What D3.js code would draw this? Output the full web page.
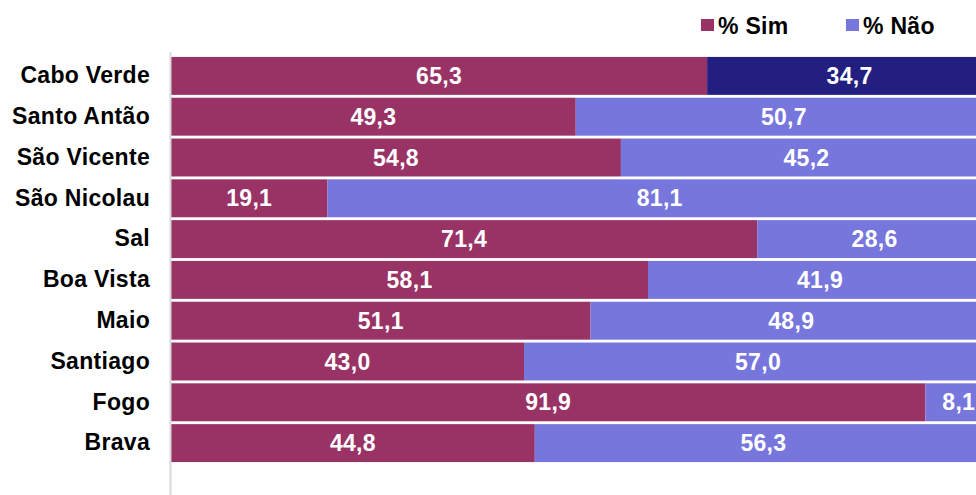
<!DOCTYPE html>
<html>
<head>
<meta charset="utf-8">
<script src="https://cdn.jsdelivr.net/npm/d3@7"></script>
<style>
  html, body { margin: 0; padding: 0; background: #fff; overflow: hidden; }
  svg { display: block; font-family: "Liberation Sans", Arial, sans-serif; }
  text { font-family: "Liberation Sans", Arial, sans-serif; }
</style>
</head>
<body>
<svg id="chart" width="976" height="495"></svg>
<script>
const categories = ["Cabo Verde", "Santo Antão", "São Vicente", "São Nicolau", "Sal", "Boa Vista", "Maio", "Santiago", "Fogo", "Brava"];
const simValues = [65.3, 49.3, 54.8, 19.1, 71.4, 58.1, 51.1, 43.0, 91.9, 44.8];
const naoValues = [34.7, 50.7, 45.2, 81.1, 28.6, 41.9, 48.9, 57.0, 8.1, 56.3];
const seriesNames = ["% Sim", "% Não"];

const colors = { sim: "#993366", nao: "#7676DC", naoTotal: "#221F80" };

const svg = d3.select("#chart");
const W = 976, H = 495;
const x0 = 171;
// 100% stacked: each row normalised to its total
const x = d3.scaleLinear().domain([0, 1]).range([x0, 992]);
const y = d3.scaleBand().domain(categories).range([55.5, 463.5]).paddingInner(0.07).paddingOuter(0.035);

const fmt = v => v.toFixed(1).replace(".", ",");
const FS = 23;
const LS = 0.3;

const rows = categories.map((c, i) => {
  const tot = simValues[i] + naoValues[i];
  return { c, i, sim: simValues[i], nao: naoValues[i], fs: simValues[i] / tot };
});

const g = svg.append("g");
rows.forEach(r => {
  g.append("rect")
    .attr("x", x(0)).attr("y", y(r.c))
    .attr("width", x(r.fs) - x(0)).attr("height", y.bandwidth())
    .attr("fill", colors.sim);
  g.append("rect")
    .attr("x", x(r.fs)).attr("y", y(r.c))
    .attr("width", x(1) - x(r.fs)).attr("height", y.bandwidth())
    .attr("fill", r.i === 0 ? colors.naoTotal : colors.nao);
  g.append("text")
    .attr("x", (x(0) + x(r.fs)) / 2).attr("y", y(r.c) + y.bandwidth() / 2)
    .attr("text-anchor", "middle").attr("dominant-baseline", "central")
    .attr("fill", "#fff").attr("font-weight", "bold").attr("font-size", FS)
    .attr("letter-spacing", LS)
    .text(fmt(r.sim));
  g.append("text")
    .attr("x", (x(r.fs) + x(1)) / 2).attr("y", y(r.c) + y.bandwidth() / 2)
    .attr("text-anchor", "middle").attr("dominant-baseline", "central")
    .attr("fill", "#fff").attr("font-weight", "bold").attr("font-size", FS)
    .attr("letter-spacing", LS)
    .text(fmt(r.nao));
});

const axis = d3.axisLeft(y).tickSize(0).tickPadding(21);
const ag = svg.append("g").attr("transform", `translate(${x0},0)`).call(axis);
ag.select(".domain").remove();
ag.selectAll("text").attr("font-size", FS).attr("font-weight", "bold").attr("fill", "#000")
  .attr("letter-spacing", LS)
  .attr("font-family", "'Liberation Sans', Arial, sans-serif");
svg.append("line").attr("x1", x0 - 0.5).attr("x2", x0 - 0.5).attr("y1", 52).attr("y2", H)
  .attr("stroke", "#d9d9d9").attr("stroke-width", 2);

const legend = [
  { name: seriesNames[0], color: colors.sim, x: 701 },
  { name: seriesNames[1], color: colors.nao, x: 846 }
];
legend.forEach(l => {
  svg.append("rect").attr("x", l.x).attr("y", 19).attr("width", 13).attr("height", 12).attr("fill", l.color);
  svg.append("text").attr("x", l.x + 17).attr("y", 25.5).attr("dominant-baseline", "central")
    .attr("font-size", FS).attr("font-weight", "bold").attr("fill", "#000")
    .attr("letter-spacing", LS).text(l.name);
});
</script>
</body>
</html>
